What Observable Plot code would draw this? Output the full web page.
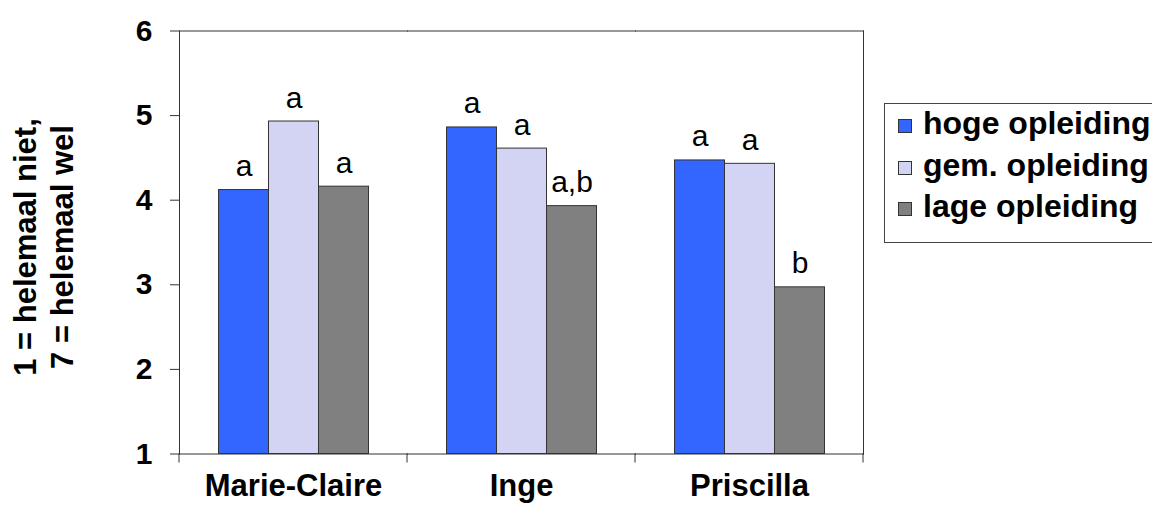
<!DOCTYPE html>
<html><head><meta charset="utf-8">
<script src="https://cdn.jsdelivr.net/npm/d3@7"></script>
<script src="https://cdn.jsdelivr.net/npm/@observablehq/plot@0.6"></script>
<style>
body{margin:0;background:#fff;}
#wrap{position:relative;width:1152px;height:506px;overflow:hidden;font-family:"Liberation Sans",Arial,sans-serif;color:#000;}
#ylab{position:absolute;left:43.5px;top:247px;transform:translate(-50%,-50%) rotate(-90deg);font-size:31px;font-weight:bold;line-height:37px;text-align:center;white-space:nowrap;}
#legend{position:absolute;left:884px;top:103px;width:290px;height:140px;border:1px solid #444;box-sizing:border-box;}
#legend .inner{position:absolute;left:13px;top:-1px;}
#legend .row{font-size:32px;font-weight:bold;line-height:41.5px;white-space:nowrap;}
#legend .sw{display:inline-block;width:12px;height:12px;border:1px solid #333;margin-right:11px;vertical-align:1px;}
</style></head><body><div id="wrap"></div>
<script>
const names = ["Marie-Claire", "Inge", "Priscilla"];
const series = ["hoge opleiding", "gem. opleiding", "lage opleiding"];
const hoge = [4.12, 4.86, 4.47];
const gem = [4.93, 4.61, 4.43];
const lage = [4.16, 3.93, 2.97];
const lettersHoge = ["a", "a", "a"];
const lettersGem = ["a", "a", "a"];
const lettersLage = ["a", "a,b", "b"];
const colors = ["#3366FF", "#D3D3F3", "#808080"];
const yTicks = [1, 2, 3, 4, 5, 6];
const yLabelLines = ["1 = helemaal niet,", "7 = helemaal wel"];

const values = [hoge, gem, lage];
const letters = [lettersHoge, lettersGem, lettersLage];
const data = names.flatMap((name, i) => series.map((s, j) => ({name, series: s, value: values[j][i], label: letters[j][i]})));

const plot = Plot.plot({
  width: 1152, height: 506,
  marginLeft: 178.5, marginRight: 289, marginTop: 30.5, marginBottom: 52.5,
  style: {fontFamily: '"Liberation Sans", Arial, sans-serif', color: "#000", background: "transparent"},
  fx: {domain: names, padding: 0, label: null},
  x: {domain: series, paddingInner: 0, paddingOuter: 0.76, axis: null},
  y: {domain: [1, 6], axis: null},
  color: {domain: series, range: colors},
  marks: [
    Plot.barY(data, {fx: "name", x: "series", y1: 1, y2: "value", fill: "series", stroke: "#333", strokeWidth: 1}),
    Plot.text(data, {fx: "name", x: "series", y: "value", text: "label", dy: -14, lineAnchor: "bottom", fontSize: 30, fill: "#000"}),
    Plot.frame({anchor: "top", stroke: "#333"}),
    Plot.frame({anchor: "bottom", stroke: "#333"}),
    Plot.frame({anchor: "left", stroke: "#333", facetAnchor: "left"}),
    Plot.frame({anchor: "right", stroke: "#333", facetAnchor: "right"}),
    Plot.axisY({ticks: yTicks, tickSize: 9, tickPadding: 18, tickFormat: d3.format("d"), fontSize: 30, fontWeight: "bold", label: null, stroke: "#333", fill: "#000"}),
    Plot.axisFx({anchor: "bottom", tickSize: 0, tickPadding: 20, fontSize: 31, fontWeight: "bold", label: null, fill: "#000"})
  ]
});

const wrap = document.getElementById("wrap");
wrap.appendChild(plot);

// tick marks at group boundaries, placed with the plot's own scales
const svg = plot.tagName.toLowerCase() === "svg" ? plot : plot.querySelector("svg");
const fx = plot.scale("fx");
const ys = plot.scale("y");
const y0 = ys.apply(1);
const edges = names.map(n => fx.apply(n)).concat([fx.apply(names[names.length - 1]) + fx.bandwidth]);
d3.select(svg).append("g").attr("stroke", "#333")
  .selectAll("line").data(edges).join("line")
  .attr("x1", d => d).attr("x2", d => d).attr("y1", y0).attr("y2", y0 + 9);

// y label
const yl = document.createElement("div");
yl.id = "ylab";
yl.innerHTML = yLabelLines.join("<br>");
wrap.appendChild(yl);

// legend
const lg = document.createElement("div");
lg.id = "legend";
const inner = document.createElement("div");
inner.className = "inner";
series.forEach((s, i) => {
  const row = document.createElement("div");
  row.className = "row";
  const sw = document.createElement("span");
  sw.className = "sw";
  sw.style.background = colors[i];
  row.appendChild(sw);
  row.appendChild(document.createTextNode(s));
  inner.appendChild(row);
});
lg.appendChild(inner);
wrap.appendChild(lg);
</script>
</body></html>
